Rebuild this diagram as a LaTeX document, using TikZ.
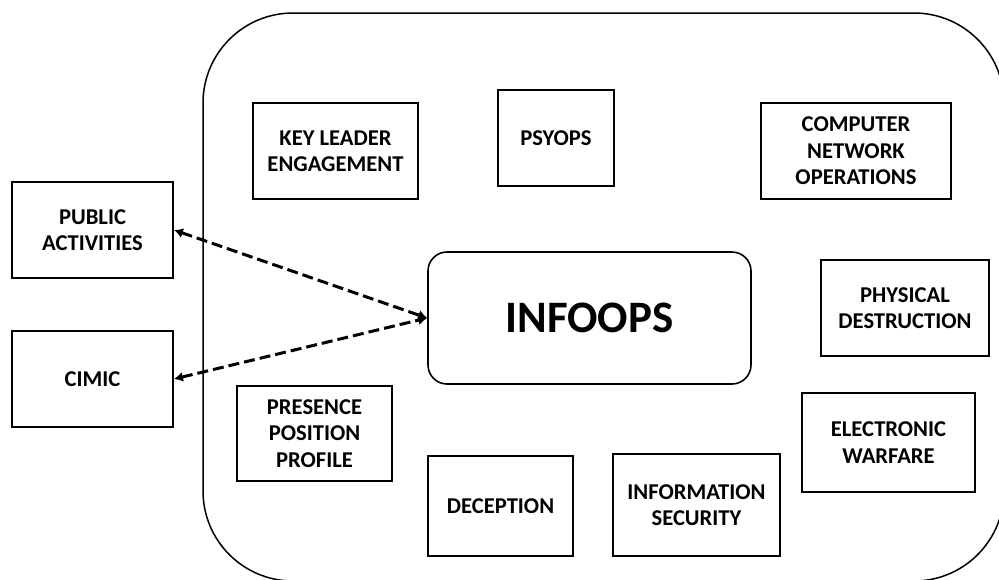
\documentclass[tikz,border=0pt]{standalone}
\usepackage{fontspec}
\setmainfont{Carlito}
\usetikzlibrary{arrows.meta}
\begin{document}
\begin{tikzpicture}[x=1pt,y=-1pt,
  box/.style={draw=black,line width=1.9pt,fill=white,inner sep=0pt,align=center,
    font=\fontsize{22.6}{26.5}\selectfont\bfseries},
  core/.style={draw=black,line width=1.6pt,rounded corners=19pt,fill=white,inner sep=0pt,
    font=\fontsize{45}{50}\selectfont\bfseries},
  link/.style={dashed,line width=3pt,dash pattern=on 11pt off 5pt,
    {Latex[length=9pt,width=10pt]}-{Latex[length=9pt,width=10pt]}}]
\useasboundingbox (0,0) rectangle (999,579);
\begin{scope}
\clip (0,0) rectangle (999,579);
\draw[line width=1.5pt,rounded corners=90pt] (203,13) rectangle (1004,581);
\end{scope}
\node[box,minimum width=165pt,minimum height=96pt] (kle) at (335.5,151) {KEY LEADER\\ENGAGEMENT};
\node[box,minimum width=116pt,minimum height=96pt] (psy) at (556,138) {PSYOPS};
\node[box,minimum width=190pt,minimum height=96pt] (cno) at (856,151) {COMPUTER\\NETWORK\\OPERATIONS};
\node[box,minimum width=161pt,minimum height=96pt] (pa) at (92.5,230) {PUBLIC\\ACTIVITIES};
\node[box,minimum width=161pt,minimum height=96pt] (cimic) at (92.5,379) {CIMIC};
\node[core,minimum width=323pt,minimum height=132pt] (info) at (589.5,318) {INFOOPS};
\node[box,minimum width=168pt,minimum height=96pt] (pd) at (905,308) {PHYSICAL\\DESTRUCTION};
\node[box,minimum width=155pt,minimum height=95pt] (ppp) at (314.5,433.5) {PRESENCE\\POSITION\\PROFILE};
\node[box,minimum width=173pt,minimum height=99pt] (ew) at (888.5,442.5) {ELECTRONIC\\WARFARE};
\node[box,minimum width=145pt,minimum height=100pt] (dec) at (500.5,506) {DECEPTION};
\node[box,minimum width=167pt,minimum height=102pt] (is) at (696.5,505) {INFORMATION\\SECURITY};
\draw[link] (pa.east) -- (info.west);
\draw[link] (cimic.east) -- (info.west);
\end{tikzpicture}
\end{document}
